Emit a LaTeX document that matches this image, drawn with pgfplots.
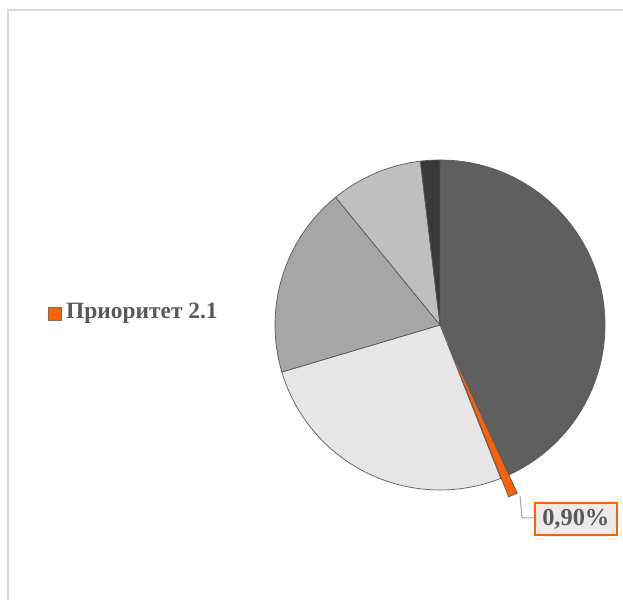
\documentclass[border=0pt]{standalone}
\usepackage{pgfplots}
\pgfplotsset{compat=1.18}
\usepackage{pgfplotstable}
\usepackage{fontspec}
\setmainfont{Liberation Serif}
\definecolor{c1}{HTML}{5F5F5F}
\definecolor{c2}{HTML}{FF6000}
\definecolor{c3}{HTML}{E6E6E6}
\definecolor{c4}{HTML}{A6A6A6}
\definecolor{c5}{HTML}{BFBFBF}
\definecolor{c6}{HTML}{3A3A3A}
\definecolor{txt}{HTML}{595959}
\definecolor{frame}{HTML}{D9D9D9}
\pgfplotstableread{
share color
43.1 c1
0.9 c2
26.4 c3
18.7 c4
9.0 c5
1.9 c6
}\piedata
\begin{document}
\begin{tikzpicture}
\begin{axis}[
  x=1bp, y=1bp, scale only axis, disabledatascaling,
  xmin=0, xmax=623, ymin=0, ymax=600,
  hide axis, clip=false]
\coordinate (ll) at (axis cs:0,0);
\coordinate (ur) at (axis cs:623,600);
\addplot[draw=frame, line width=1.5bp] coordinates {(8,0) (8,590) (623,590)};
\pgfplotstablegetrowsof{\piedata}
\pgfmathtruncatemacro\nrows{\pgfplotsretval-1}
\def\cum{0}
\pgfplotsforeachungrouped \i in {0,...,\nrows}{%
  \pgfplotstablegetelem{\i}{share}\of\piedata \let\val\pgfplotsretval
  \pgfplotstablegetelem{\i}{color}\of\piedata \let\col\pgfplotsretval
  \pgfmathsetmacro\sa{90-\cum*3.6}
  \pgfmathsetmacro\ea{90-(\cum+\val)*3.6}
  \pgfmathsetmacro\md{(\sa+\ea)/2}
  \pgfmathsetmacro\off{ifthenelse(\i==1,20,0)}
  \pgfmathsetmacro\cx{440+\off*cos(\md)}
  \pgfmathsetmacro\cy{275+\off*sin(\md)}
  \edef\doslice{\noexpand\filldraw[fill=\col, draw=black!65, line width=0.7bp, line join=round] (axis cs:\cx,\cy) -- ++(\sa:165bp) arc[start angle=\sa, end angle=\ea, radius=165bp] -- cycle;}%
  \doslice
  \pgfmathsetmacro\cum{\cum+\val}%
}
% leader line for the data label
\addplot[draw=black!35, line width=1bp] coordinates {(520,104) (522,82) (534,82)};
\node[draw=c2, line width=1.5bp, fill=black!8, text=txt, font=\fontsize{24.5}{27}\selectfont\bfseries,
  inner xsep=7.5bp, inner ysep=6bp, anchor=west] at (axis cs:534,81) {0,90\%};
% legend
\node[draw=black!55, fill=c2, line width=0.6bp, minimum size=13bp, inner sep=0pt] at (axis cs:55,286.5) {};
\node[anchor=west, text=txt, font=\fontsize{23.5}{26}\selectfont\bfseries, inner sep=0pt] at (axis cs:66,287) {Приоритет 2.1};
\end{axis}
\pgfresetboundingbox
\path[use as bounding box] (ll) rectangle (ur);
\end{tikzpicture}
\end{document}
